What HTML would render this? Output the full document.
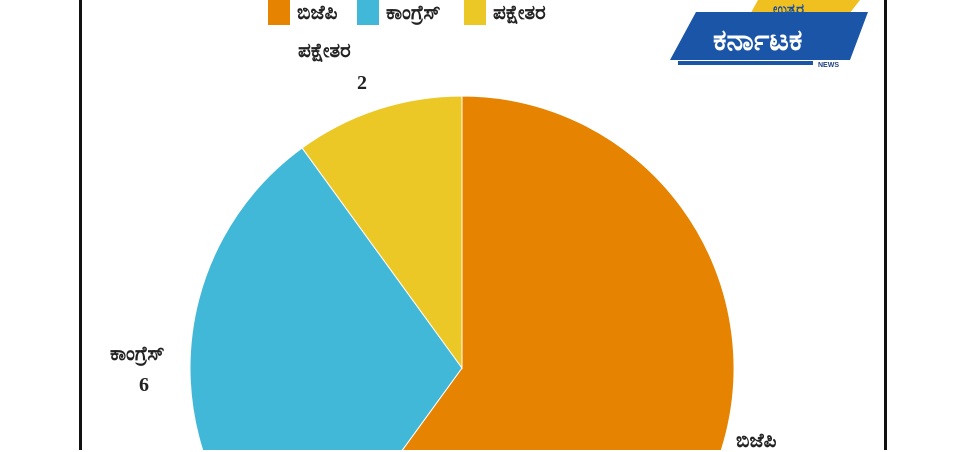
<!DOCTYPE html>
<html><head><meta charset="utf-8"><style>
html,body{margin:0;padding:0}
body{background:#fff;width:960px;height:450px;overflow:hidden;position:relative;font-family:"Liberation Serif","DejaVu Sans",serif}
.t{position:absolute;font-weight:bold;font-size:20px;line-height:22px;color:#222;white-space:nowrap}
</style></head><body>
<div style="position:absolute;left:79px;top:0;width:3px;height:450px;background:#111"></div>
<div style="position:absolute;left:884px;top:0;width:3px;height:450px;background:#111"></div>
<svg id="pie" width="960" height="450" style="position:absolute;left:0;top:0;display:block"></svg>
<div>
<div style="position:absolute;left:268px;top:0;width:22px;height:25px;background:#e68300"></div>
<div class="t" style="left:297px;top:2px">ಬಿಜೆಪಿ</div>
<div style="position:absolute;left:357px;top:0;width:22px;height:25px;background:#42b8d8"></div>
<div class="t" style="left:386px;top:2px">ಕಾಂಗ್ರೆಸ್</div>
<div style="position:absolute;left:464px;top:0;width:22px;height:25px;background:#ecc826"></div>
<div class="t" style="left:493px;top:2px">ಪಕ್ಷೇತರ</div>
</div>
<div class="t" style="left:298px;top:40px">ಪಕ್ಷೇತರ</div>
<div class="t" style="left:357px;top:72px">2</div>
<div class="t" style="left:110px;top:343px">ಕಾಂಗ್ರೆಸ್</div>
<div class="t" style="left:139px;top:374px">6</div>
<div class="t" style="left:736px;top:430px">ಬಿಜೆಪಿ</div>
<svg width="220" height="70" style="position:absolute;left:668px;top:0">
<polygon points="90,0 192,0 178,18 80,18" fill="#f0c020"/>
<text x="105" y="14" font-size="15" font-weight="bold" fill="#1b4f9c" font-family="DejaVu Sans,sans-serif">ಉತ್ತರ</text>
<polygon points="28,12 200,12 182,60 2,60" fill="#1b55a8"/>
<text x="45" y="50" font-size="30" font-weight="bold" fill="#fff" font-family="DejaVu Sans,sans-serif">ಕರ್ನಾಟಕ</text>
<rect x="10" y="61" width="135" height="4" fill="#1b55a8"/>
<text x="150" y="67" font-size="7" font-weight="bold" fill="#1b3f80" font-family="Liberation Sans,sans-serif">NEWS</text>
</svg>
<script>
const categories=["ಬಿಜೆಪಿ","ಕಾಂಗ್ರೆಸ್","ಪಕ್ಷೇತರ"];
const seriesValues=[12,6,2];
const colors=["#e68300","#42b8d8","#ecc826"];
const svg=document.getElementById('pie');
const cx=462,cy=368,r=272;
const total=seriesValues.reduce((a,b)=>a+b,0);
function pt(a){return [cx+r*Math.sin(a),cy-r*Math.cos(a)];}
let a0=0;
seriesValues.forEach((v,i)=>{
  const a1=a0+v/total*2*Math.PI;
  const p0=pt(a0),p1=pt(a1);
  const large=(a1-a0)>Math.PI?1:0;
  const path=document.createElementNS('http://www.w3.org/2000/svg','path');
  path.setAttribute('d',`M${cx},${cy}L${p0[0]},${p0[1]}A${r},${r} 0 ${large} 1 ${p1[0]},${p1[1]}Z`);
  path.setAttribute('fill',colors[i]);
  path.setAttribute('stroke','#fff');
  path.setAttribute('stroke-width','1');
  
  
  svg.appendChild(path);
  a0=a1;
});
</script>
</body></html>
